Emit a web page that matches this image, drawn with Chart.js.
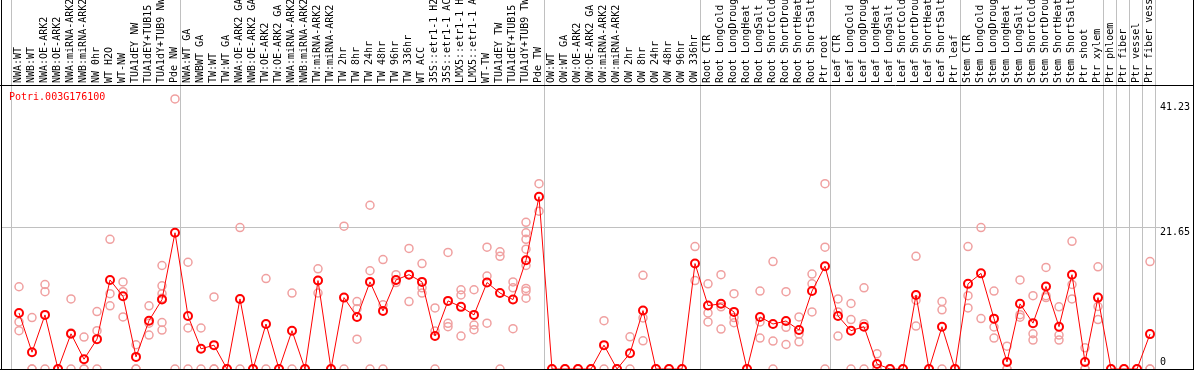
<!DOCTYPE html>
<html><head><meta charset="utf-8">
<script src="https://cdn.jsdelivr.net/npm/chart.js@4/dist/chart.umd.min.js"></script>
<style>html,body{margin:0;padding:0;background:#fff;overflow:hidden}#wrap{width:1194px;height:370px;position:relative}</style>
</head><body><div id="wrap"><canvas id="c" width="1194" height="370"></canvas></div>
<script>
const geneName = "Potri.003G176100";

const labels = [
  "NWA:WT","NWB:WT","NWA:OE-ARK2","NWB:OE-ARK2","NWA:miRNA-ARK2","NWB:miRNA-ARK2","NW 0hr","WT H2O","WT-NW","TUA1dEY NW","TUA1dEY+TUB15","TUA1dY+TUB9 NW","Pde NW",
  "NWA:WT GA","NWBWT GA","TW:WT","TW:WT GA","NWA:OE-ARK2 GA","NWB:OE-ARK2 GA","TW:OE-ARK2","TW:OE-ARK2 GA","NWA:miRNA-ARK2","NWB:miRNA-ARK2","TW:miRNA-ARK2","TW:miRNA-ARK2","TW 2hr","TW 8hr","TW 24hr","TW 48hr","TW 96hr","TW 336hr","WT ACC","35S::etr1-1 H2","35S::etr1-1 AC","LMX5::etr1-1 H","LMX5::etr1-1 A","WT-TW","TUA1dEY TW","TUA1dEY+TUB15","TUA1dY+TUB9 TW","Pde TW",
  "OW:WT","OW:WT GA","OW:OE-ARK2","OW:OE-ARK2 GA","OW:miRNA-ARK2","OW:miRNA-ARK2","OW 2hr","OW 8hr","OW 24hr","OW 48hr","OW 96hr","OW 336hr",
  "Root CTR","Root LongCold","Root LongDroug","Root LongHeat","Root LongSalt","Root ShortCold","Root ShortDrou","Root ShortHeat","Root ShortSalt","Ptr root",
  "Leaf CTR","Leaf LongCold","Leaf LongDroug","Leaf LongHeat","Leaf LongSalt","Leaf ShortCold","Leaf ShortDrou","Leaf ShortHeat","Leaf ShortSalt","Ptr leaf",
  "Stem CTR","Stem LongCold","Stem LongDroug","Stem LongHeat","Stem LongSalt","Stem ShortCold","Stem ShortDrou","Stem ShortHeat","Stem ShortSalt","Ptr shoot","Ptr xylem",
  "Ptr phloem","Ptr fiber","Ptr vessel","Ptr fiber vess"
];

const means = [
  8.56,2.56,8.26,0,5.38,1.49,4.56,13.6,11.1,1.85,7.38,10.6,20.8,
  8.1,3.08,3.64,0,10.7,0,6.87,0,5.85,0,13.5,0,10.9,7.95,13.3,8.87,13.6,14.4,13.3,5.03,10.4,9.49,8.26,13.2,11.6,10.6,16.6,26.3,
  0,0,0,0,3.64,0,2.41,8.92,0,0,0,16.1,
  9.69,9.95,8.72,0,7.95,6.87,7.33,5.95,11.9,15.7,
  8.1,5.85,6.46,0.77,0,0,11.3,0,6.46,0,
  13.0,14.6,7.69,1.08,9.95,7.0,12.6,6.46,14.4,1.08,10.9,
  0,0,0,5.33
];

const replicates = [
  [12.56,7.18,5.85],[7.85,0,0],[12.9,11.8,0],[0,0,0],[10.7,5.5,0],[4.87,0,0],[8.77,5.85,0],[19.8,11.5,9.64],[13.3,11.8,7.95],[3.7,0,0],[9.64,7.0,5.18],[15.8,12.7,11.5,10.8,7.1,5.95],[41.23,0],
  [16.3,6.26,0],[6.26,0],[11.0,0,0],[0,0,0],[21.6,0],[0,0,0],[13.8,0],[0,0],[11.6,0],[0,0],[15.3,11.6,13.5],[0,0],[21.8,0],[10.3,9.2,4.56],[25.0,15.0,0],[16.7,9.8,0],[14.4,13.2,13.6],[18.4,10.3,14.4],[16.1,12.4,11.6],[9.33,5.8,0],[17.8,6.97,6.46],[12.1,11.3,5.03],[12.1,6.72,6.0],[18.6,14.2,7.0],[17.9,17.2,0],[13.3,12.4,6.15],[22.4,20.8,19.8,18.3,15.8,12.3,11.9,10.8],[28.3,24.1],
  [0,0],[0,0],[0,0],[0,0],[7.38,0],[0,0],[4.92,0],[14.3,7.8,4.3],[0,0],[0,0],[0,0],[18.7,13.5],
  [13.0,8.56,7.18],[14.4,9.49,6.1],[11.5,7.85,7.08],[0,0],[11.9,7.18,4.72],[16.4,4.26,0],[11.8,6.36,3.74],[7.95,5.33,4.15],[14.5,13.0,8.72],[28.3,18.6,0],
  [10.7,8.72,5.03],[10.0,7.54,0],[12.4,6.92,0],[2.31,0,0],[0,0],[0,0],[17.2,10.5,6.56],[0,0],[10.3,9.03,0],[0,0],
  [18.7,11.2,9.33],[21.6,7.7],[11.9,6.41,4.72],[3.49,0,0],[13.6,8.3,7.9],[11.2,5.38,4.41],[15.5,11.2,10.9],[9.49,5.18,4.41],[19.5,12.9,10.7],[3.23,0,0],[15.6,9.54,7.54],
  [0,0],[0,0],[0,0],[16.4,0,0]
];

const groupBreaks = [0,13,41,53,63,73,84,85,86,87,88];
const yTickValues = [0, 21.65, 41.23];
const yMax = 43.36;

const FONT = "'DejaVu Sans Mono', monospace";
const RED = '#ff0000';
const PINK = '#f0a0a0';
const GRAY = '#c0c0c0';

const meanPts = means.map((v, i) => ({x: i, y: v}));
const repPts = [];
replicates.forEach((arr, i) => arr.forEach(v => repPts.push({x: i, y: v})));

const yLabelLH = {0: 14, 21.65: 10, 41.23: 16};

const framePlugin = {
  id: 'frame',
  beforeDatasetsDraw(chart) {
    const {ctx, chartArea: a, scales: {x, y}} = chart;
    ctx.save();
    ctx.strokeStyle = GRAY;
    ctx.lineWidth = 1;
    groupBreaks.forEach(b => {
      const px = Math.round(x.getPixelForValue(b - 0.5)) + 0.5;
      ctx.beginPath(); ctx.moveTo(px, 0); ctx.lineTo(px, a.bottom); ctx.stroke();
    });
    const gy = Math.round(y.getPixelForValue(yTickValues[1])) + 0.5;
    ctx.beginPath(); ctx.moveTo(1, gy); ctx.lineTo(a.left, gy); ctx.stroke();
    ctx.restore();
  },
  afterDraw(chart) {
    const {ctx, chartArea: a, width, height} = chart;
    ctx.save();
    ctx.strokeStyle = '#000';
    ctx.lineWidth = 1;
    ctx.beginPath();
    ctx.moveTo(0, a.top + 0.5); ctx.lineTo(width, a.top + 0.5);
    ctx.moveTo(0, a.bottom + 0.5); ctx.lineTo(width, a.bottom + 0.5);
    ctx.moveTo(1.5, 0); ctx.lineTo(1.5, height);
    ctx.moveTo(width - 0.5, 0); ctx.lineTo(width - 0.5, height);
    ctx.stroke();
    ctx.fillStyle = RED;
    ctx.font = '10px ' + FONT;
    ctx.textBaseline = 'middle';
    ctx.textAlign = 'left';
    ctx.fillText(geneName, a.left - 2, a.top + 12);
    ctx.restore();
  }
};

new Chart(document.getElementById('c'), {
  data: {
    labels: labels,
    datasets: [
      {
        type: 'line',
        label: 'mean',
        data: meanPts,
        xAxisID: 'xd', yAxisID: 'y',
        borderColor: RED, borderWidth: 1,
        pointRadius: 4, pointBorderWidth: 2,
        pointBorderColor: RED, pointBackgroundColor: 'rgba(0,0,0,0)',
        tension: 0, clip: false, order: 0
      },
      {
        type: 'scatter',
        label: 'replicates',
        data: repPts,
        xAxisID: 'xd', yAxisID: 'y',
        showLine: false,
        pointRadius: 4, pointBorderWidth: 1.5,
        pointBorderColor: PINK, pointBackgroundColor: 'rgba(0,0,0,0)',
        borderColor: PINK,
        clip: false, order: 1
      }
    ]
  },
  options: {
    responsive: false,
    animation: false,
    devicePixelRatio: 1,
    layout: {autoPadding: false, padding: {left: 11, right: 0, top: 0, bottom: 1}},
    plugins: {legend: {display: false}, tooltip: {enabled: false}, title: {display: false}},
    scales: {
      x: {
        type: 'category',
        position: 'top',
        offset: true,
        grid: {display: false, drawTicks: false},
        border: {display: false},
        ticks: {
          autoSkip: false, minRotation: 90, maxRotation: 90,
          padding: 2, color: '#000', labelOffset: 13,
          font: {family: FONT, size: 10}
        },
        afterFit(scale) { scale.height = 85; scale.paddingLeft = 0; scale.paddingRight = 0; }
      },
      xd: {
        type: 'linear',
        display: false,
        min: -0.5 - 1.5 / 13,
        max: 87.5 - 1.5 / 13
      },
      y: {
        type: 'linear',
        position: 'right',
        min: 0, max: yMax,
        border: {display: false},
        grid: {
          color: ctx => (ctx.tick && ctx.tick.value === yTickValues[1]) ? GRAY : 'rgba(0,0,0,0)',
          drawTicks: true, tickLength: 5, lineWidth: 1
        },
        afterBuildTicks(scale) { scale.ticks = yTickValues.map(v => ({value: v})); },
        ticks: {
          padding: 0,
          color: '#000',
          font: ctx => ({family: FONT, size: 10, lineHeight: (ctx.tick ? (yLabelLH[ctx.tick.value] || 12) : 12) + 'px'}),
          callback: (v) => v === 0 ? ['0', ''] : ['', String(v)]
        },
        afterFit(scale) { scale.width = 39; scale.paddingTop = 0; scale.paddingBottom = 0; }
      }
    }
  },
  plugins: [framePlugin]
});
</script>
</body></html>
